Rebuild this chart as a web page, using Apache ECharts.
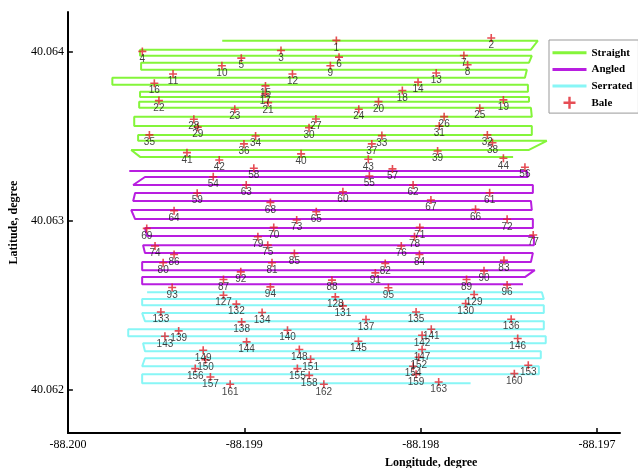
<!DOCTYPE html>
<html>
<head>
<meta charset="utf-8">
<script src="https://cdn.jsdelivr.net/npm/echarts@6/dist/echarts.min.js"></script>
<style>html,body{margin:0;padding:0;background:#fff;}#c{width:638px;height:468px;}</style>
</head>
<body>
<div id="c"></div>
<script>
const xTicks = [-88.200, -88.199, -88.198, -88.197];
const yTicks = [40.062, 40.063, 40.064];

const baleIds = [1,2,3,4,5,6,7,8,9,10,11,12,13,14,15,16,17,18,19,20,21,22,23,24,25,26,27,28,29,30,31,32,33,34,35,36,37,38,39,40,41,42,43,44,
54,55,56,57,58,59,60,61,62,63,64,65,66,67,68,69,70,71,72,73,74,75,76,77,78,79,80,81,82,83,84,85,86,87,88,89,90,91,92,93,94,95,96,
127,128,129,130,131,132,133,134,135,136,137,138,139,140,141,142,143,144,145,146,147,148,149,150,151,152,153,154,155,156,157,158,159,160,161,162,163];

const baleLon = [-88.198478,-88.197600,-88.198792,-88.199578,-88.199017,-88.198463,-88.197755,-88.197734,-88.198512,-88.199127,
-88.199404,-88.198727,-88.197912,-88.198015,-88.198880,-88.199510,-88.198881,-88.198104,-88.197531,-88.198239,
-88.198865,-88.199484,-88.199054,-88.198351,-88.197665,-88.197867,-88.198594,-88.199286,-88.199264,-88.198633,
-88.197895,-88.197622,-88.198220,-88.198936,-88.199538,-88.199002,-88.198277,-88.197593,-88.197904,-88.198678,
-88.199325,-88.199142,-88.198297,-88.197531,
-88.199176,-88.198291,-88.197409,-88.198160,-88.198946,-88.199267,-88.198441,-88.197609,-88.198043,-88.198989,
-88.199398,-88.198592,-88.197689,-88.197942,-88.198852,-88.199553,-88.198833,-88.198005,-88.197510,-88.198703,
-88.199506,-88.198867,-88.198110,-88.197362,-88.198035,-88.198923,-88.199460,-88.198843,-88.198201,-88.197528,
-88.198007,-88.198716,-88.199398,-88.199118,-88.198503,-88.197740,-88.197641,-88.198257,-88.199020,-88.199409,
-88.198852,-88.198183,-88.197510,
-88.199118,-88.198484,-88.197697,-88.197745,-88.198441,-88.199045,-88.199473,-88.198899,-88.198026,-88.197487,
-88.198310,-88.199015,-88.199372,-88.198755,-88.197940,-88.197992,-88.199450,-88.198987,-88.198353,-88.197450,
-88.197992,-88.198688,-88.199233,-88.199220,-88.198624,-88.198011,-88.197390,-88.198043,-88.198699,-88.199278,
-88.199192,-88.198632,-88.198026,-88.197469,-88.199080,-88.198549,-88.197898];

const baleLat = [40.064069,40.064083,40.064009,40.064004,40.063964,40.063970,40.063980,40.063925,40.063919,40.063919,
40.063870,40.063870,40.063876,40.063822,40.063800,40.063816,40.063753,40.063773,40.063717,40.063707,
40.063701,40.063713,40.063662,40.063662,40.063668,40.063618,40.063604,40.063603,40.063556,40.063553,
40.063563,40.063510,40.063506,40.063504,40.063510,40.063457,40.063457,40.063464,40.063415,40.063398,
40.063405,40.063362,40.063366,40.063372,
40.063263,40.063267,40.063319,40.063309,40.063313,40.063165,40.063174,40.063168,40.063214,40.063214,
40.063062,40.063056,40.063070,40.063125,40.063111,40.062957,40.062963,40.062963,40.063011,40.063007,
40.062853,40.062858,40.062853,40.062918,40.062908,40.062908,40.062754,40.062754,40.062750,40.062768,
40.062803,40.062809,40.062803,40.062655,40.062651,40.062655,40.062706,40.062694,40.062700,40.062608,
40.062611,40.062606,40.062622,
40.062562,40.062552,40.062566,40.062513,40.062499,40.062509,40.062463,40.062460,40.062463,40.062420,
40.062418,40.062404,40.062351,40.062355,40.062361,40.062325,40.062319,40.062286,40.062290,40.062306,
40.062241,40.062241,40.062236,40.062180,40.062183,40.062195,40.062148,40.062142,40.062128,40.062128,
40.062078,40.062088,40.062094,40.062098,40.062035,40.062035,40.062049];

// Straight field passes
const straightLat = [40.064067,40.064014,40.063978,40.063937,40.063895,40.063848,40.063806,40.063765,40.063735,40.063706,40.063670,40.063617,40.063563,40.063510,40.063475,40.063421,40.063380];
const straightLonLeft = [-88.199125,-88.199591,-88.199591,-88.199585,-88.199585,-88.199748,-88.199748,-88.199591,-88.199591,-88.199596,-88.199596,-88.199624,-88.199624,-88.199602,-88.199602,-88.199641,-88.199591];
const straightLonRight = [-88.197336,-88.197375,-88.197370,-88.197386,-88.197398,-88.197409,-88.197392,-88.197392,-88.197386,-88.197386,-88.197375,-88.197370,-88.197370,-88.197370,-88.197285,-88.197386,-88.197476];

// Angled field passes
const angledLat = [40.063297,40.063261,40.063214,40.063167,40.063119,40.063066,40.063012,40.062959,40.062912,40.062858,40.062811,40.062758,40.062710,40.062669,40.062627];
const angledLonLeft = [-88.199652,-88.199563,-88.199630,-88.199619,-88.199630,-88.199641,-88.199619,-88.199563,-88.199551,-88.199574,-88.199563,-88.199579,-88.199579,-88.199579,-88.199579];
const angledLonRight = [-88.197398,-88.197392,-88.197364,-88.197364,-88.197375,-88.197370,-88.197364,-88.197364,-88.197358,-88.197358,-88.197364,-88.197375,-88.197353,-88.197409,-88.197420];

// Serrated field passes
const serratedLat = [40.062580,40.062539,40.062503,40.062456,40.062408,40.062361,40.062319,40.062278,40.062230,40.062189,40.062142,40.062094,40.062041];
const serratedLonLeft = [-88.199551,-88.199579,-88.199579,-88.199579,-88.199563,-88.199658,-88.199658,-88.199574,-88.199563,-88.199563,-88.199579,-88.199579,-88.199579];
const serratedLonRight = [-88.197313,-88.197302,-88.197302,-88.197302,-88.197302,-88.197302,-88.197291,-88.197291,-88.197319,-88.197319,-88.197330,-88.197330,-88.197717];

function serpentine(lat, left, right) {
  const pts = [];
  for (let i = 0; i < lat.length; i++) {
    if (i % 2 === 0) { pts.push([left[i], lat[i]]); pts.push([right[i], lat[i]]); }
    else { pts.push([right[i], lat[i]]); pts.push([left[i], lat[i]]); }
  }
  return pts;
}

const bales = baleIds.map((id, i) => [baleLon[i], baleLat[i], id]);
const plus = 'path://M-1,-5H1V-1H5V1H1V5H-1V1H-5V-1H-1Z';
const serif = "'Liberation Serif','Times New Roman',serif";
const hidden = {opacity: 0};

const chart = echarts.init(document.getElementById('c'), null, {renderer: 'canvas'});
chart.setOption({
  animation: false,
  backgroundColor: '#fff',
  grid: {left: 62, right: 18, top: 12, bottom: 35},
  legend: {
    orient: 'vertical', left: 549, top: 40,
    padding: [6.7, 6, 4.3, 2],
    itemWidth: 34, itemHeight: 12, itemGap: 4.7,
    borderColor: '#999', borderWidth: 1, backgroundColor: '#fff',
    textStyle: {fontFamily: serif, fontWeight: 'bold', fontSize: 11, color: '#000', lineHeight: 12},
    lineStyle: {width: 3},
    data: [
      {name: 'Straight', itemStyle: hidden},
      {name: 'Angled', itemStyle: hidden},
      {name: 'Serrated', itemStyle: hidden},
      {name: 'Bale'}
    ]
  },
  xAxis: {
    type: 'value', min: -88.2, max: -88.19687,
    axisLine: {show: true, onZero: false, lineStyle: {color: '#000', width: 2}},
    axisTick: {show: true, inside: true, length: 5, lineStyle: {color: '#000', width: 1.5}, customValues: xTicks},
    axisLabel: {color: '#000', fontFamily: serif, fontSize: 12, margin: 6, customValues: xTicks,
      formatter: v => v.toFixed(3)},
    splitLine: {show: false}
  },
  yAxis: {
    type: 'value', min: 40.061747, max: 40.064237,
    name: 'Latitude, degree', nameLocation: 'middle', nameGap: 44,
    nameTextStyle: {fontFamily: serif, fontWeight: 'bold', fontSize: 12, color: '#000'},
    axisLine: {show: true, onZero: false, lineStyle: {color: '#000', width: 2}},
    axisTick: {show: true, inside: true, length: 5, lineStyle: {color: '#000', width: 1.5}, customValues: yTicks},
    axisLabel: {color: '#000', fontFamily: serif, fontSize: 12, margin: 4, customValues: yTicks,
      formatter: v => v.toFixed(3)},
    splitLine: {show: false}
  },
  graphic: [{
    type: 'text', left: 385, top: 457,
    style: {text: 'Longitude, degree', x: 0, y: 0, textAlign: 'center', fill: '#000',
      font: "bold 12px 'Liberation Serif', serif"}
  }],
  series: [
    {name: 'Straight', type: 'line', data: serpentine(straightLat, straightLonLeft, straightLonRight),
     showSymbol: false, symbol: 'none', lineStyle: {color: '#84f53a', width: 2}, itemStyle: {color: '#84f53a'}, z: 2},
    {name: 'Angled', type: 'line', data: serpentine(angledLat, angledLonLeft, angledLonRight),
     showSymbol: false, symbol: 'none', lineStyle: {color: '#b81ee0', width: 2}, itemStyle: {color: '#a010d8'}, z: 2},
    {name: 'Serrated', type: 'line', data: serpentine(serratedLat, serratedLonLeft, serratedLonRight),
     showSymbol: false, symbol: 'none', lineStyle: {color: '#88f6f6', width: 2}, itemStyle: {color: '#88f6f6'}, z: 2},
    {name: 'Bale', type: 'scatter', data: bales, symbol: plus, symbolSize: 8,
     itemStyle: {color: '#e0202a'}, z: 5,
     label: {show: true, position: 'inside', offset: [0, 7.5], formatter: p => String(p.value[2]),
       color: '#111', fontSize: 10, fontFamily: "'Liberation Sans Narrow','Liberation Sans',Arial,sans-serif"}}
  ]
});
</script>
</body>
</html>
